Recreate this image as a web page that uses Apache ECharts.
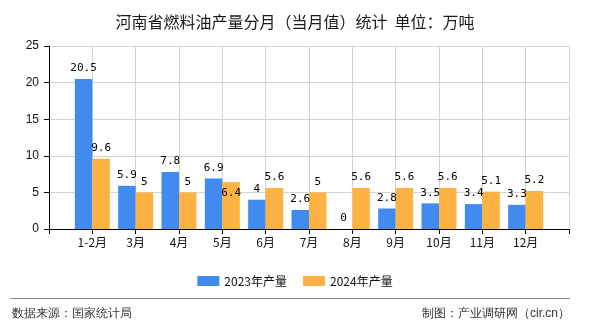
<!DOCTYPE html>
<html>
<head>
<meta charset="utf-8">
<script src="https://cdn.jsdelivr.net/npm/echarts@6/dist/echarts.min.js"></script>
<style>
html,body{margin:0;padding:0;background:#fff;}
#c{width:590px;height:330px;}
</style>
</head>
<body>
<div id="c"></div>
<script>
var categories = ['1-2月','3月','4月','5月','6月','7月','8月','9月','10月','11月','12月'];
var values2023 = [20.5, 5.9, 7.8, 6.9, 4, 2.6, 0, 2.8, 3.5, 3.4, 3.3];
var values2024 = [9.6, 5, 5, 6.4, 5.6, 5, 5.6, 5.6, 5.6, 5.1, 5.2];
var seriesNames = ['2023年产量','2024年产量'];
var yTicks = [0, 5, 10, 15, 20, 25];
var titleText = '河南省燃料油产量分月（当月值）统计  单位：万吨';
var sourceText = '数据来源：国家统计局';
var creditText = '制图：产业调研网（cir.cn）';

var axisData = [''].concat(categories).concat(['']);
function pad(arr){ return [null].concat(arr).concat([null]); }

var cjk = '"Noto Sans CJK SC", "Liberation Sans", sans-serif';
var mono = '"DejaVu Sans Mono", "Liberation Mono", monospace';
var LABEL_FS = 11;
var CHAR_W = LABEL_FS * 0.602;

var chart = echarts.init(document.getElementById('c'));

// When the 2024 label collides with the neighbouring 2023 label, push it down into its bar
function avoidNeighbour(params) {
  var i = params.dataIndex - 1;
  if (i < 0 || i >= values2023.length) return {};
  var v = values2023[i];
  var lr = params.labelRect;
  var r = params.rect;
  // neighbour (2023) label box estimate
  var p = chart.convertToPixel({ gridIndex: 0 }, [params.dataIndex, v]);
  var w = String(v).length * CHAR_W;
  var cx = r.x - r.width / 2;
  var h = lr.height;
  var top = p[1] - 5 - h;
  var overlapX = (cx + w / 2) > lr.x && (cx - w / 2) < lr.x + lr.width;
  var overlapY = top < lr.y + lr.height && top + h > lr.y;
  if (overlapX && overlapY) {
    return { dy: 21 };
  }
  return {};
}

chart.setOption({
  animation: false,
  backgroundColor: '#fff',
  title: {
    text: titleText,
    left: 'center',
    top: 9,
    textStyle: { fontSize: 16, fontWeight: 'normal', color: '#1a1a1a', fontFamily: cjk }
  },
  legend: {
    data: seriesNames,
    top: 270,
    left: 'center',
    itemWidth: 22,
    itemHeight: 10,
    itemGap: 16,
    icon: 'rect',
    textStyle: { fontSize: 12, color: '#111', fontFamily: cjk }
  },
  grid: { left: 49, right: 21, top: 46, height: 183 },
  xAxis: {
    type: 'category',
    data: axisData,
    boundaryGap: false,
    axisLine: { lineStyle: { color: '#000', width: 1 } },
    axisTick: { show: true, interval: 0, length: 5, lineStyle: { color: '#000' } },
    axisLabel: { interval: 0, margin: 7, fontSize: 12, color: '#111', fontFamily: cjk },
    splitLine: { show: true, interval: 0, lineStyle: { color: '#d4d4d4', width: 1 } }
  },
  yAxis: {
    type: 'value',
    min: yTicks[0],
    max: yTicks[yTicks.length - 1],
    interval: 5,
    axisLine: { show: true, lineStyle: { color: '#000', width: 1 } },
    axisTick: { show: true, length: 5, lineStyle: { color: '#000' } },
    axisLabel: { margin: 10, fontSize: 12, color: '#111', fontFamily: '"Liberation Sans", sans-serif' },
    splitLine: { show: true, lineStyle: { color: '#d4d4d4', width: 1 } }
  },
  series: [
    {
      name: seriesNames[0],
      type: 'bar',
      data: pad(values2023),
      barWidth: 17.5,
      barGap: '0%',
      itemStyle: { color: '#418af0' },
      label: { show: true, position: 'top', distance: 5, fontSize: LABEL_FS, color: '#000', fontFamily: mono }
    },
    {
      name: seriesNames[1],
      type: 'bar',
      data: pad(values2024),
      barWidth: 17.5,
      barGap: '0%',
      itemStyle: { color: '#fcb343' },
      label: { show: true, position: 'top', distance: 5, fontSize: LABEL_FS, color: '#000', fontFamily: mono },
      labelLayout: avoidNeighbour
    }
  ],
  graphic: [
    { type: 'line', shape: { x1: 10, y1: 298.5, x2: 570, y2: 298.5 }, style: { stroke: '#888', lineWidth: 1 } },
    { type: 'text', left: 12, top: 308, style: { text: sourceText, fontSize: 12, fill: '#333', font: '12px ' + cjk } },
    { type: 'text', right: 20, top: 308, style: { text: creditText, fontSize: 12, fill: '#333', font: '12px ' + cjk } }
  ]
});
</script>
</body>
</html>
